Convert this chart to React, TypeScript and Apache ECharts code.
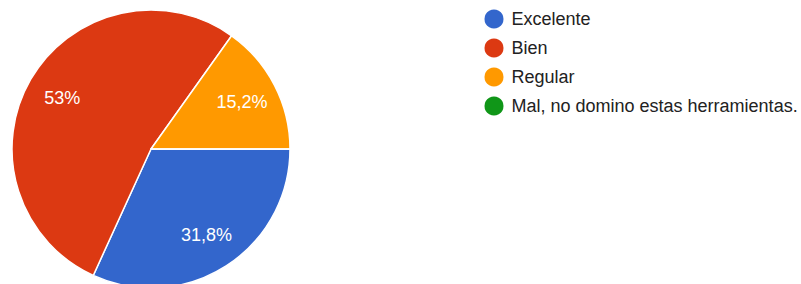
import React, { useEffect, useRef } from "react";
import * as echarts from "echarts";

const categories = ["Excelente", "Bien", "Regular", "Mal, no domino estas herramientas."];
const counts = [21, 35, 10, 0];
const colors = ["#3366cc", "#dc3912", "#ff9900", "#109618"];

const total = counts.reduce((a, b) => a + b, 0);
const pctLabel = (v: number) => {
  if (!v) return "";
  const p = Math.round((v / total) * 1000) / 10;
  return (Number.isInteger(p) ? String(p) : p.toFixed(1)).replace(".", ",") + "%";
};

export default function App() {
  const ref = useRef<HTMLDivElement>(null);
  useEffect(() => {
    if (!ref.current) return;
    const chart = echarts.init(ref.current, undefined, { renderer: "svg" });
    const data = categories.map((name, i) => ({
      name,
      value: counts[i],
      itemStyle: { color: colors[i] },
    }));
    chart.setOption({
      animation: false,
      legend: {
        orient: "vertical",
        left: 477.5,
        top: 2.5,
        icon: "circle",
        itemWidth: 21,
        itemHeight: 21,
        itemGap: 6,
        data: categories,
        textStyle: {
          fontFamily: "Liberation Sans, Arial, sans-serif",
          fontSize: 18,
          color: "#222222",
          lineHeight: 17,
          padding: [0, 0, 0, 2],
        },
      },
      series: [
        {
          type: "pie",
          center: [151, 149],
          radius: [0, 139],
          startAngle: 0,
          clockwise: true,
          label: { show: false },
          labelLine: { show: false },
          itemStyle: { borderColor: "#ffffff", borderWidth: 1.5 },
          emphasis: { disabled: true },
          data,
        },
        {
          type: "pie",
          center: [151, 149],
          radius: [60, 139],
          startAngle: 0,
          clockwise: true,
          silent: true,
          legendHoverLink: false,
          itemStyle: { color: "rgba(0,0,0,0)", borderWidth: 0 },
          labelLine: { show: false },
          label: {
            show: true,
            position: "inside",
            color: "#ffffff",
            fontFamily: "Liberation Sans, Arial, sans-serif",
            fontSize: 18,
            formatter: (p: any) => pctLabel(p.value),
          },
          data: categories.map((name, i) => ({
            name,
            value: counts[i],
            itemStyle: { color: "rgba(0,0,0,0)" },
          })),
        },
      ],
    });
    return () => chart.dispose();
  }, []);
  return (
    <div
      ref={ref}
      style={{ position: "fixed", left: 0, top: 0, width: 801, height: 284, background: "#ffffff" }}
    />
  );
}
